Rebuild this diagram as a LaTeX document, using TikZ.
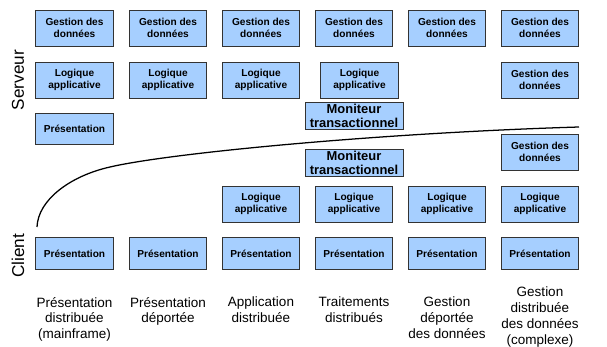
\documentclass[tikz,border=0pt]{standalone}
\usepackage{fontspec}
\setmainfont{Liberation Sans}
\usepackage{tikz}
\usetikzlibrary{positioning, shadows}

\definecolor{boxblue}{RGB}{166,207,255}
\tikzset{
  couche/.style={draw=black!80, fill=boxblue, line width=0.6pt, inner sep=0pt,
    minimum width=1.93cm, minimum height=0.9cm, align=center,
    font=\fontsize{7.2}{8.6}\selectfont\bfseries,
    drop shadow={shadow xshift=0.6pt, shadow yshift=-0.6pt, fill=black!70, opacity=0.8}},
  pres/.style={couche, minimum height=0.78cm},
  moniteur/.style={couche, minimum width=2.45cm, minimum height=0.66cm,
    font=\fontsize{9.2}{9.6}\selectfont\bfseries},
  legende/.style={align=center, anchor=north, font=\fontsize{9.6}{11.2}\selectfont},
  cote/.style={rotate=90, font=\fontsize{12.2}{14}\selectfont}
}

\begin{document}
\begin{tikzpicture}[x=0.025cm, y=-0.025cm, semithick]
    \useasboundingbox (0,0) rectangle (607,347);
    % serveur
    \node[couche] (g1) at (74.5,28) {Gestion des\\données};
    \node[couche] (g2) at (168,28)  {Gestion des\\données};
    \node[couche] (g3) at (261,28)  {Gestion des\\données};
    \node[couche] (g4) at (354,28)  {Gestion des\\données};
    \node[couche] (g5) at (447,28)  {Gestion des\\données};
    \node[couche] (g6) at (540,28)  {Gestion des\\données};
    \node[couche] (l1) at (74.5,80) {Logique\\applicative};
    \node[couche] (l2) at (168,80)  {Logique\\applicative};
    \node[couche] (l3) at (261,80)  {Logique\\applicative};
    \node[couche] (l4) at (359.5,80) {Logique\\applicative};
    \node[couche] (g6b) at (540,80) {Gestion des\\données};
    \node[pres] (p1) at (74.5,129) {Présentation};
    \node[moniteur] (m4) at (354,116) {Moniteur\\transactionnel};
    % client
    \node[moniteur] (m4c) at (354,163) {Moniteur\\transactionnel};
    \node[couche] (g6c) at (540,152) {Gestion des\\données};
    \node[couche] (lc3) at (261,204) {Logique\\applicative};
    \node[couche] (lc4) at (354,204) {Logique\\applicative};
    \node[couche] (lc5) at (447,204) {Logique\\applicative};
    \node[couche] (lc6) at (540,204) {Logique\\applicative};
    \node[pres] (pc1) at (74.5,253.5) {Présentation};
    \node[pres] (pc2) at (168,253.5)  {Présentation};
    \node[pres] (pc3) at (261,253.5)  {Présentation};
    \node[pres] (pc4) at (354,253.5)  {Présentation};
    \node[pres] (pc5) at (447,253.5)  {Présentation};
    \node[pres] (pc6) at (540,253.5)  {Présentation};
    % axes
    \node[cote] (serveur) at (18,80)  {Serveur};
    \node[cote] (client)  at (18,256) {Client};
    % frontiere
    \coordinate (f0) at (37,227);
    \coordinate (f1) at (110,167);
    \coordinate (f2) at (579,127);
    \draw[line width=0.9pt] (f0) .. controls (38,200) and (70,176) .. (f1)
        .. controls (170,153) and (380,133) .. (f2);
    % legendes
    \node[legende] (t1) at (74.5,292) {Présentation\\distribuée\\(mainframe)};
    \node[legende] (t2) at (168,292)  {Présentation\\déportée};
    \node[legende] (t3) at (261,292)  {Application\\distribuée};
    \node[legende] (t4) at (354,292)  {Traitements\\distribués};
    \node[legende] (t5) at (447,292)  {Gestion\\déportée\\des données};
    \node[legende] (t6) at (540,282)  {Gestion\\distribuée\\des données\\(complexe)};
\end{tikzpicture}
\end{document}
